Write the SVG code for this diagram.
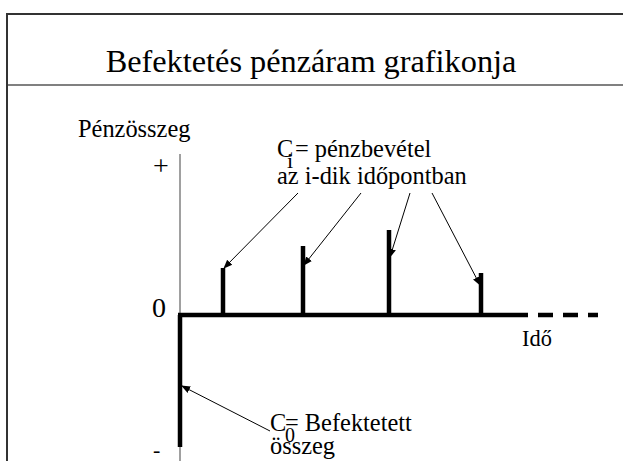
<svg xmlns="http://www.w3.org/2000/svg" width="623" height="461" viewBox="0 0 623 461" font-family="'Liberation Serif', 'Times New Roman', serif">
<style>
text{font-family:'Liberation Serif','Times New Roman',serif;fill:#000}
.lbl{font-size:24.4px}
.sym{font-size:28px}
.bar{stroke:#000;stroke-width:4.5;fill:none}
.arr{stroke:#000;stroke-width:1;fill:none;marker-end:url(#ah)}
</style>
<defs>
<marker id="ah" viewBox="0 0 10 10" refX="9" refY="5" markerWidth="9" markerHeight="9" markerUnits="userSpaceOnUse" orient="auto">
<path d="M0,1 L10,5 L0,9 z" fill="#000"/>
</marker>
</defs>
<rect width="623" height="461" fill="#fff"/>
<g id="frame">
<path d="M7,461 V14 H623" fill="none" stroke="#333" stroke-width="2"/>
<line x1="8" y1="85" x2="623" y2="85" stroke="#808080" stroke-width="2"/>
<text x="311" y="72" text-anchor="middle" font-size="32.3">Befektetés pénzáram grafikonja</text>
</g>
<g id="axes">
<line x1="180" y1="154" x2="180" y2="461" stroke="#808080" stroke-width="1.5"/>
<text class="lbl" x="78" y="137">Pénzösszeg</text>
<text class="sym" x="153" y="175">+</text>
<text class="sym" x="152" y="317">0</text>
<text x="153" y="456.5" font-size="22">-</text>
<line class="bar" x1="178" y1="315" x2="528" y2="315"/>
<line class="bar" x1="538" y1="315" x2="598" y2="315" stroke-dasharray="15,10"/>
<text x="522" y="346" font-size="22.4">Idő</text>
</g>
<g id="bars">
<line class="bar" x1="180" y1="315" x2="180" y2="447"/>
<line class="bar" x1="223" y1="268" x2="223" y2="315"/>
<line class="bar" x1="303" y1="246" x2="303" y2="315"/>
<line class="bar" x1="389" y1="230" x2="389" y2="315"/>
<line class="bar" x1="481" y1="273" x2="481" y2="315"/>
</g>
<g id="label-ci">
<text class="lbl" x="277" y="157">C</text>
<text x="287" y="168" font-size="22">i</text>
<text class="lbl" x="295" y="157">= pénzbevétel</text>
<text class="lbl" x="277" y="184">az i-dik időpontban</text>
</g>
<g id="label-c0">
<text class="lbl" x="270" y="431">C</text>
<text x="285" y="442" font-size="20">0</text>
<text class="lbl" x="285" y="431">= Befektetett</text>
<text class="lbl" x="270" y="454">összeg</text>
</g>
<g id="connectors">
<line class="arr" x1="298" y1="193" x2="224" y2="268"/>
<line class="arr" x1="361" y1="193" x2="304" y2="265"/>
<line class="arr" x1="410" y1="193" x2="390" y2="257"/>
<line class="arr" x1="432" y1="193" x2="480" y2="285"/>
<line class="arr" x1="270" y1="431" x2="182" y2="386"/>
</g>
</svg>
